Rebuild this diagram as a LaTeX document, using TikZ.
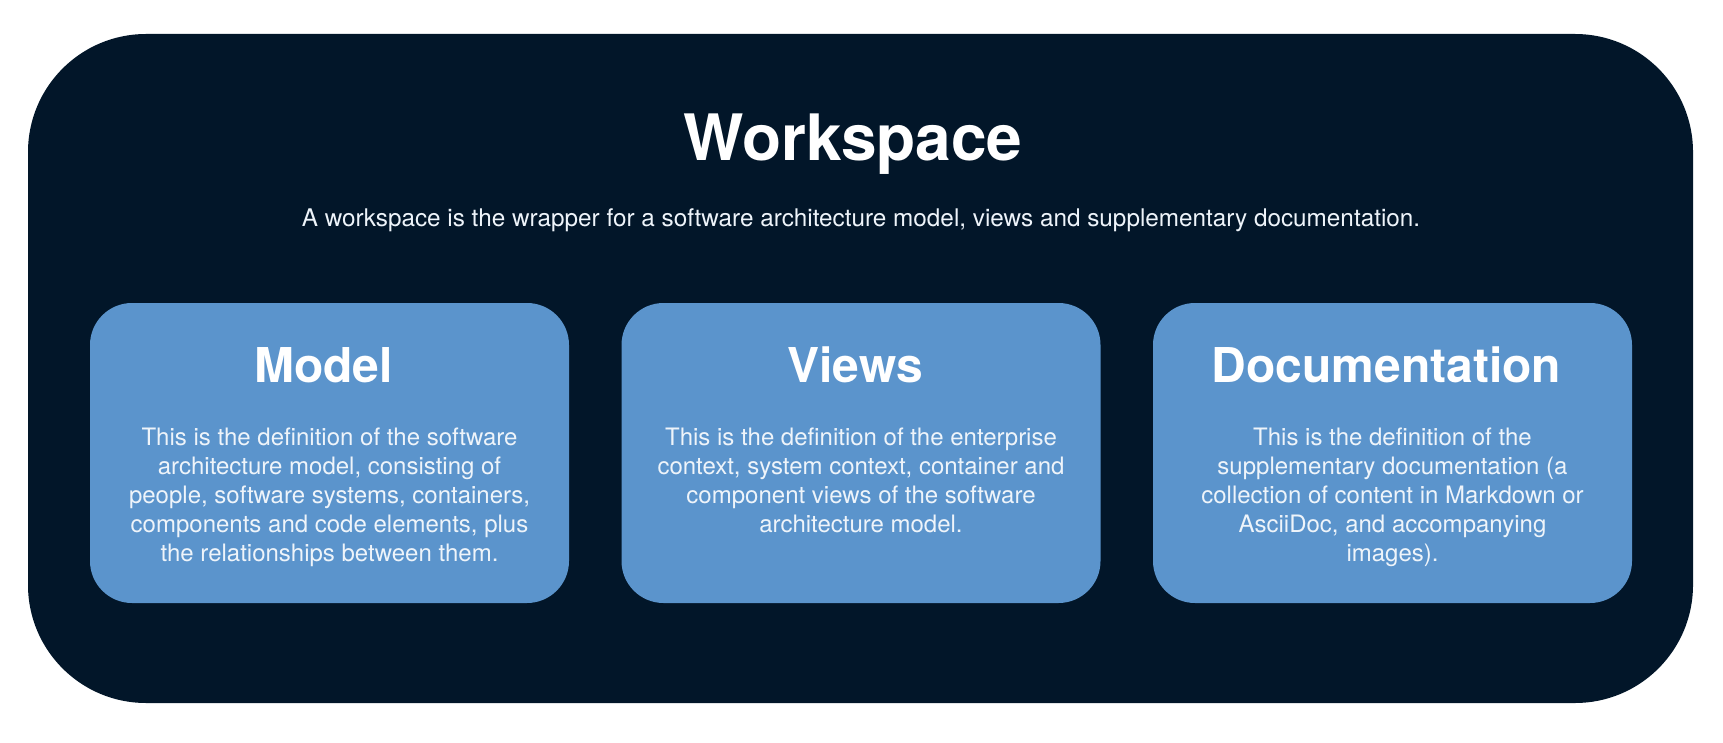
\documentclass[tikz,border=0pt]{standalone}
\usepackage{fontspec}
\setmainfont{TeX Gyre Heros}
\definecolor{navy}{RGB}{2,22,41}
\definecolor{boxblue}{RGB}{91,148,204}
\definecolor{softwhite}{RGB}{238,244,250}
\tikzset{
  outerbox/.style={fill=navy, rounded corners=118pt, inner sep=0pt, minimum width=1665pt, minimum height=669pt},
  partbox/.style={fill=boxblue, rounded corners=42pt, inner sep=0pt, minimum width=479pt, minimum height=300pt},
  bigtitle/.style={font=\fontsize{64}{72}\selectfont\bfseries, text=white, anchor=base, inner sep=0pt},
  parttitle/.style={font=\fontsize{48}{54}\selectfont\bfseries, text=white, anchor=base, inner sep=0pt},
  subtitle/.style={font=\fontsize{24.3}{29}\selectfont, text=softwhite, anchor=base, inner sep=0pt},
  body/.style={font=\fontsize{24}{29}\selectfont, text=softwhite, align=center, anchor=north, inner sep=0pt}
}
\begin{document}
\begin{tikzpicture}[x=1pt,y=-1pt]
\useasboundingbox (0,0) rectangle (1723,743);
\node[outerbox] (ws) at (860.5,368.5) {};
\node[bigtitle] (wstitle) at (853,161) {Workspace};
\node[subtitle] (wssub) at (861,227) {A workspace is the wrapper for a software architecture model, views and supplementary documentation.};

\node[partbox] (model) at (329.5,453) {};
\node[partbox] (views) at (861,453) {};
\node[partbox] (docs) at (1392.5,453) {};

\node[parttitle] (modelt) at (323.5,382) {Model};
\node[parttitle] (viewst) at (855,382) {Views};
\node[parttitle] (docst) at (1386.5,382) {Documentation};

\node[body] (modelb) at (329.5,428) {This is the definition of the software\\architecture model, consisting of\\people, software systems, containers,\\components and code elements, plus\\the relationships between them.};
\node[body] (viewsb) at (861,428) {This is the definition of the enterprise\\context, system context, container and\\component views of the software\\architecture model.};
\node[body] (docsb) at (1392.5,428) {This is the definition of the\\supplementary documentation (a\\collection of content in Markdown or\\AsciiDoc, and accompanying\\images).};
\end{tikzpicture}
\end{document}
